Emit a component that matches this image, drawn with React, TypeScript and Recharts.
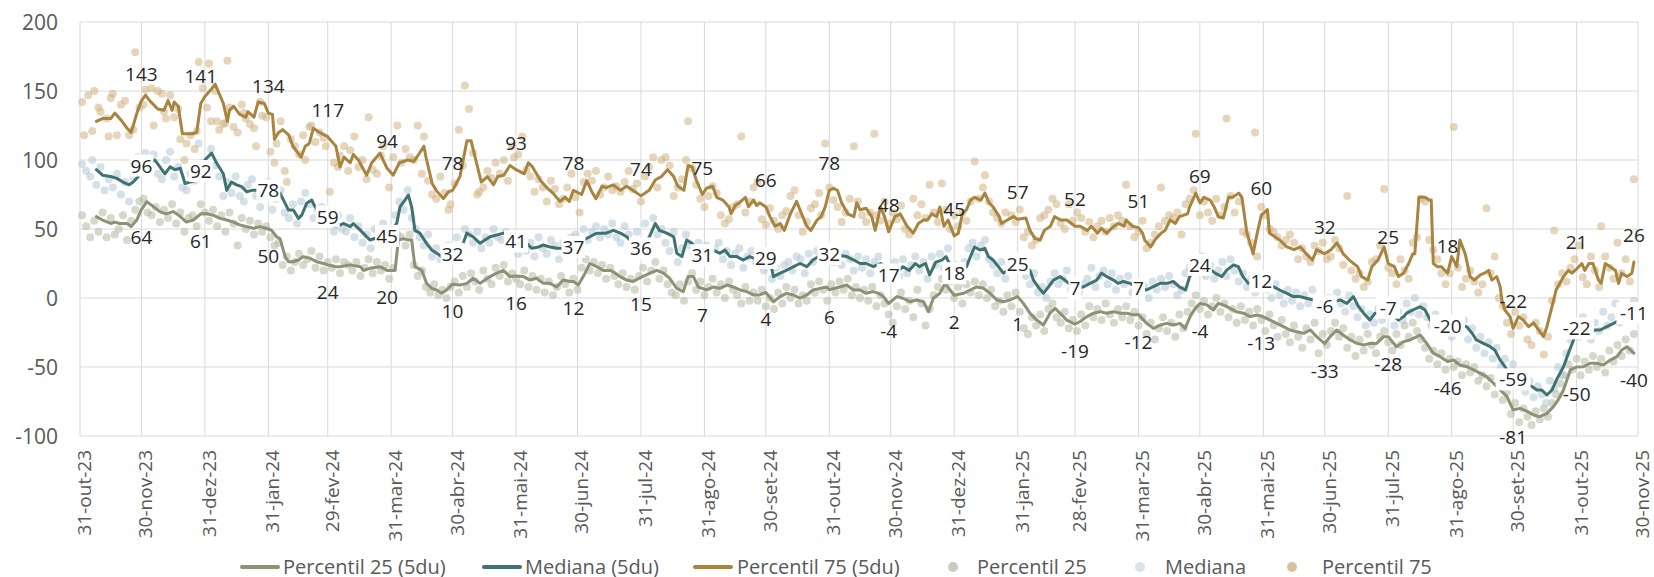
import { ComposedChart, Line, XAxis, YAxis, CartesianGrid } from "recharts";

// x = calendar days counted from 31-out-23
const tickDays = [0, 30, 61, 92, 121, 152, 182, 213, 243, 274, 305, 335, 366, 396, 427, 458, 486, 517, 547, 578, 608, 639, 670, 700, 731, 761];
const tickLabels = [
  "31-out-23", "30-nov-23", "31-dez-23", "31-jan-24", "29-fev-24", "31-mar-24", "30-abr-24", "31-mai-24", "30-jun-24",
  "31-jul-24", "31-ago-24", "30-set-24", "31-out-24", "30-nov-24", "31-dez-24", "31-jan-25", "28-fev-25", "31-mar-25",
  "30-abr-25", "31-mai-25", "30-jun-25", "31-jul-25", "31-ago-25", "30-set-25", "31-out-25", "30-nov-25",
];
const yTicks = [-100, -50, 0, 50, 100, 150, 200];

// last business day of each month, where the labels sit
const labelDays = [30, 59, 92, 121, 150, 182, 213, 241, 274, 304, 335, 366, 395, 427, 458, 486, 517, 547, 577, 608, 639, 668, 700, 731, 759];
const p75Labels = [143, 141, 134, 117, 94, 78, 93, 78, 74, 75, 66, 78, 48, 45, 57, 52, 51, 69, 60, 32, 25, 18, -22, 21, 26];
const medLabels = [96, 92, 78, 59, 45, 32, 41, 37, 36, 31, 29, 32, 17, 18, 25, 7, 7, 24, 12, -6, -7, -20, -59, -22, -11];
const p25Labels = [64, 61, 50, 24, 20, 10, 16, 12, 15, 7, 4, 6, -4, 2, 1, -19, -12, -4, -13, -33, -28, -46, -81, -50, -40];

// 5du lines [day, value]
const p75Line: [number, number][] = [
  [8,128],[11,130],[15,130],[17,134],[20,129],[23,123],[25,120],[28,135],[30,143],[32,147],[34,143],[38,137],[41,136],[43,143],[45,136],[46,142],[48,139],[50,119],[55,119],[57,120],[59,141],[61,146],[64,151],[66,155],[68,148],[70,141],[72,128],[73,136],[75,139],[78,133],[81,131],[82,135],[85,131],[87,142],[90,141],[92,134],[94,133],[95,115],[97,120],[99,122],[102,118],[104,110],[108,102],[110,110],[112,112],[114,123],[117,120],[121,117],[122,115],[125,110],[127,95],[129,102],[132,98],[133.5,104],[136,100],[140,89],[142.5,98],[146.5,105],[150,94],[153,89],[156,98],[160,100],[163,99],[164.5,102],[168,110],[169,102],[172,83],[174,78],[177.5,72],[180,77],[182,78],[185.6,88],[189,114],[191,114],[193,102],[196,84],[199,88],[202,82],[204,88],[207,89],[210,96],[213,93],[217,90],[219,98],[221,95],[225,85],[228,80],[231,76],[234.5,70],[237,73],[239,70],[241,78],[245,75],[247.5,85],[250,77],[252,72],[255,81],[257,80],[260.5,82],[264,78],[267,81],[270,78],[274,74],[278,78],[281,85.5],[284,88],[287,93],[290,88],[292,81],[295,78],[297,96],[299,95],[301,85.5],[304,75],[306,79.5],[309,81],[311,73],[314,71],[317,66],[318,61],[320,67],[322,69],[325,73],[326.5,66],[329,71],[330.5,67],[332,69],[335,66],[337,59],[339.5,52],[342,54],[344,49],[347,61],[350,70],[352.5,61],[355,52],[357,49],[360,56.5],[362,59],[364,66],[366,78],[368,79.5],[370,78],[372,69],[375,61],[378,59],[379.4,69],[381,64],[384,65],[386.7,59],[388.4,49],[391,66],[393,59],[395,48],[398,59],[400.6,61],[404,52],[407,47],[409.5,54],[412,56.5],[414,56.5],[416,61],[418.5,59],[420,66],[422,52],[424,56.5],[427,45],[429,47],[431,61],[433,64],[435,71],[437,73],[440,71],[442,76],[444,69],[446,66],[449,59],[450,54],[453,56.5],[456,59],[458,57],[462,58],[464,49],[466.5,43],[469,42],[471,49],[474,52],[476,59],[479,56.5],[482,56.5],[486,52],[488.5,52],[492,49],[494,52],[497,47],[499,50.5],[501.5,47],[505,52],[507,54],[510,52],[511,56.5],[514,52],[517,51],[519,47],[520,42],[523,37],[525,42],[528,47],[530,49],[532.5,56.5],[535,54],[537,59],[541,61],[542,66],[545,76],[547,69],[549,73],[552,71],[554,66],[556,59],[558.5,58],[561,73],[563,73],[566,76],[567.5,73],[570,47],[573,32],[575,47],[577,60],[580,64],[581,47],[584,44],[586,42],[589.5,37],[593,35],[596,37],[599,32],[602,27.5],[604,35],[608,32],[611,35],[614,40],[617,32],[620,27.5],[624,22.7],[626,15.5],[629,13],[631,22.7],[634,27.5],[637,37],[639,25],[642,22.7],[644,15.5],[646.5,18],[649,25],[651,32],[652,32],[654,73],[657,73],[659,71],[660,71],[661,25],[663,22.7],[665,22.7],[668,18],[670,30],[672.5,22.7],[674,42],[676.6,32],[679,15.5],[681,13],[684,16.7],[686,18],[688,20],[689.6,13],[692,15.5],[693.7,8],[694.5,-1.4],[696,-8.7],[698.5,-13.5],[700,-22],[702.6,-13.5],[705,-16],[707.5,-20.8],[710,-18],[712.4,-23],[714.8,-28],[716.5,-20.8],[719,-6.3],[721,5.8],[724.6,15.5],[727,20],[728.7,18],[731,21],[733.6,25],[735,20],[737,25],[739,25],[741.7,13],[743,10.6],[745,25],[747.4,22.7],[750,20],[751.5,10.6],[753,18],[755.6,15.5],[758,18],[759,26],
];

const medLine: [number, number][] = [
  [8,93],[11,89],[15,88],[18,86.7],[21,84],[24,82],[26,84],[28.5,88],[30,96],[33,98],[36.6,100],[39,95],[41.5,90],[44,95],[46.4,93],[49,94],[51.3,83],[53.7,84],[57,85.5],[59,92],[61,100],[64.3,105],[66.8,97.6],[70,90],[71.7,78],[74,84],[76.5,82],[79,80.7],[81.4,77],[84,78],[86.3,78],[89,77],[92,78],[95,77],[97.7,76],[100.2,68.6],[101.8,63.8],[104.2,63.8],[106.7,57.7],[108.3,60],[110.7,68.6],[113.2,71],[114.8,66],[118,62],[121,59],[124,52],[125.4,51.7],[128.6,54],[132,51.7],[133.5,54],[137,49],[140,44.4],[141.6,42],[146,44],[150,45],[154.7,54],[156.3,66],[158.7,71],[160.4,74.6],[162,66],[163.6,49],[166,47],[169.3,39.6],[171.8,34.8],[174.2,32.4],[176.7,30],[180,31],[182,32],[185,36],[187.2,39.6],[188.9,47],[192,44.4],[195.4,39.6],[197.8,42],[200.3,44.4],[203.5,45.6],[206.8,47],[209,47],[213,41],[216,40],[218.2,39.6],[220.6,36],[224,37],[226.3,38.4],[229.6,37],[232.8,36],[236,36],[241,37],[246,42],[249,44.4],[252.4,47],[257,47],[260.5,49],[264,47],[267,44.4],[270,40],[274,36],[278,44],[281,54],[283,49],[286.6,47],[290,44.4],[291.5,32.4],[294,30],[296.3,42],[299,39.6],[302,34],[304,31],[309,34.8],[312.6,32.4],[315,34.8],[317.5,30],[320.8,30],[324,27.5],[327,30],[331,28],[335,29],[337,27.5],[338.7,15.5],[342,18],[345,20],[348.5,22.7],[351.7,25],[355,22.7],[358,27.5],[360.7,30],[363,31],[366,32],[370,31],[374.5,30],[378,27.5],[381,25],[384,25],[387.5,22.7],[391,25],[393,22.7],[395,17],[400,20],[402,22.7],[405,20],[408,25],[410,22.7],[413,25],[415,16.7],[418,26],[421,27.5],[423,30],[427,18],[430,20],[433,22.7],[435.6,32.4],[437,37],[439.6,34.8],[442,36],[443.7,30],[446,27.5],[448.6,22.7],[451,18],[453.5,20],[458,25],[462,22],[464,20],[465.7,13],[468,8],[470.6,3.4],[473,8],[475.5,13],[478.7,15.5],[481,13],[486,7],[490,8],[493.4,10.6],[496.6,13],[499,18],[501.5,15.5],[504.8,13],[507,10.6],[509.7,12],[513,10.6],[517,7],[521,5.8],[524,8],[527.6,10.6],[531,10.6],[534,12],[537,8],[540,5.8],[542,15.5],[547,24],[551,22],[554.4,18],[557.7,15.5],[560,20],[563.4,24],[565.8,22.7],[568,15.5],[570.7,10.6],[574,11],[577,12],[583,8],[586,5.8],[589.5,3.4],[592.7,1],[596,1],[599,-0.2],[602.5,-1.4],[608,-6],[612,-3],[615.5,-1.4],[618.8,-3.9],[622,1],[624.5,-6.3],[627,-11],[630,-16],[632.6,-11],[636,-12],[639,-7],[641,-12],[644,-16],[646.5,-13.5],[648,-11],[651,-8.7],[654.6,-6.3],[657,-8.7],[659.5,-16],[663,-18],[668,-20],[672,-19],[677.4,-20.8],[680,-25.6],[682,-30.4],[685.5,-32.9],[688.8,-35.3],[691,-37.7],[693.7,-45],[696,-49.8],[700,-59],[703,-60],[706,-62],[709,-64],[711.6,-66.7],[714,-66.7],[716.5,-70.3],[719,-66.7],[721.3,-59],[724.6,-49.8],[727,-40],[729.5,-30.4],[731,-22],[734,-24],[737.6,-25.6],[740,-23.2],[742.5,-23.2],[745.8,-20.8],[749,-18.4],[752.3,-16],[755.6,-13.5],[759,-11],
];

const p25Line: [number, number][] = [
  [8,59],[11,56.5],[15,54],[17,55],[19.5,54],[23,54],[25,51.7],[27.7,56.5],[30,64],[32.6,69.8],[36,66],[39,62.6],[42,61],[45.6,62.6],[49,59],[52,55],[55.4,56.5],[59,61],[62,61],[65,60],[68.4,57.7],[71.7,56.5],[75,55],[78,53],[81.4,51.7],[84.7,50.5],[88,51.7],[92,50],[93.6,49],[96,44.4],[97.7,43],[100.2,30],[101.8,26.3],[104.2,26.3],[106.7,27.5],[109,30],[112.4,28.7],[115.6,26.3],[118.9,25],[121,24],[125,22.7],[127,22.7],[132,24],[137,22.7],[138.4,20],[141.6,21.5],[146.5,22.7],[150,20],[153.9,20],[155.5,42],[157.9,43],[160.4,42],[162,42],[163.6,22.7],[167,20],[169.3,10.6],[171.8,7],[174.2,5.8],[176.7,3.4],[179,5.8],[182,10],[185.6,9.4],[189,10.6],[192,14.3],[195.4,10.6],[197.8,13],[200.3,15.5],[203.5,18],[206.8,20],[210,15.5],[213,16],[216.6,15.5],[219.8,13],[223,14.3],[226.3,10.6],[229.6,10.6],[232.8,8],[236,13],[239.4,12],[241,12],[243.4,9.4],[246.7,18],[249,25],[252.4,22.7],[255.6,20],[259,20],[260.5,19],[263.8,15.5],[267,13],[270.3,12],[274,15],[278.4,18],[281.7,20],[285,18],[288,14.3],[291.5,7],[294.7,4.6],[297,15.5],[299.6,15.5],[302,8],[304,7],[306,5.8],[309.4,8],[312.6,7],[316,9.4],[319,8],[322.4,5.8],[325.7,4.6],[329,2.2],[332,2.2],[335,4],[338.7,-2.7],[342,1],[345,3.4],[348.5,2.2],[351.7,-0.2],[355,2.2],[358,5.8],[361.5,7],[364.7,8],[366,6],[371,8],[374.5,9.4],[377.8,5.8],[381,5.8],[384,3.4],[387.5,4.6],[390,3.4],[392.4,1],[395,-4],[399,1],[402,-0.2],[405.4,-2.7],[408.7,-1.4],[412,-2.7],[414.4,-9.9],[416.8,-0.2],[420,3.4],[422.5,10.6],[425,5.8],[427,2],[431.5,3.4],[434.8,5.8],[438,8],[441.3,7],[444.5,3.4],[447.8,-1.4],[451,-2.7],[454.3,-1.4],[458,1],[460.8,-3.9],[464,-11],[467.3,-16],[470.6,-19.6],[473.8,-11],[476.3,-7.5],[478.7,-11],[482,-16],[486,-19],[488.5,-17],[491.8,-13.5],[495,-11],[498.3,-9.9],[501.5,-11],[504.8,-9.9],[508,-11],[511.3,-11],[514.6,-12.3],[517,-12],[521,-18.4],[524.3,-22],[527.6,-19.6],[530.8,-18.4],[534,-19.6],[537.3,-18.4],[539.8,-22],[542.2,-13.5],[544.7,-7.5],[547,-4],[550.4,-5],[553.6,-8.7],[556,-3.9],[558.5,-5],[561.8,-7.5],[565,-10],[568.3,-11],[571.5,-13.5],[574.8,-12.3],[577,-13],[581.3,-16],[584.6,-18.4],[587.8,-20.8],[591,-23.2],[594.3,-24.4],[597.6,-25.6],[601,-23.2],[604,-28],[608,-33],[610.6,-28],[613.9,-23.2],[617,-26.8],[620.4,-30.4],[623.7,-32.9],[627,-34],[630,-32.9],[633.4,-32.9],[636.7,-28],[639,-28],[643,-35.3],[646.5,-31.6],[649.7,-30.4],[653,-28],[654.6,-26.8],[657.8,-32.9],[661,-40],[664.3,-42.5],[668,-46],[671,-45],[674,-48.6],[677.4,-49.8],[680.6,-52],[684,-54.6],[687,-57],[690.4,-61.8],[693.7,-66.7],[697,-71.5],[700,-81],[703.4,-80],[706.7,-82],[710,-84.8],[713,-86],[716.5,-83.6],[719.7,-78.7],[722,-73.9],[724.6,-66.7],[728,-52],[731,-50],[734.4,-49.8],[737.6,-47.3],[741,-47.3],[744,-48.6],[747.4,-45],[750.7,-42.5],[753,-37.7],[755.6,-35.3],[759,-40],
];

// daily readings (dots)
const p75Dots: [number, number][] = [
  [1,142],[2,118],[4,147],[6,121],[7,150],[9,138],[10,135],[13,130],[14,117],[15,145],[16,148],[18,118],[20,140],[22,143],[24,118],[26,122],[27,178],[29,138],[31,140],[32,151],[35,152],[36,125],[38,150],[40,148],[41,135],[42,130],[44,147],[46,131],[48,137],[49,115],[51,100],[52,112],[54,118],[56,108],[57,121],[58,171],[60,152],[62,138],[63,170],[64,128],[66,150],[67,128],[68,122],[70,126],[71,127],[72,172],[73,138],[75,124],[77,120],[79,140],[80,134],[81,130],[83,126],[85,123],[86,110],[88,142],[89,132],[91,131],[93,106],[95,98],[96,112],[98,128],[100,92],[101,84],[103,115],[105,110],[107,104],[109,118],[110,100],[112,124],[113,125],[115,113],[117,120],[119,116],[120,110],[122,77],[124,98],[126,95],[127,103],[129,110],[131,92],[132,107],[134,117],[136,95],[138,100],[140,86],[141,131],[143,93],[145,90],[147,103],[148,110],[151,80],[153,102],[155,125],[157,98],[159,108],[161,102],[163,100],[165,125],[167,90],[168,117],[170,85],[172,75],[174,72],[176,88],[178,76],[180,64],[181,68],[183,83],[185,122],[187,96],[188,154],[190,137],[192,105],[194,75],[195,77],[197,80],[199,92],[201,87],[203,98],[205,90],[207,100],[209,85],[211,110],[212,102],[214,104],[216,117],[218,93],[220,88],[222,77],[224,86],[226,80],[228,70],[230,85],[232,79],[234,68],[236,72],[238,80],[240,90],[242,73],[244,62],[246,84],[248,90],[250,85],[252,92],[254,75],[256,80],[258,88],[260,78],[262,81],[264,77],[266,84],[268,92],[270,79],[272,83],[274,70],[276,88],[278,95],[280,102],[282,80],[284,100],[286,102],[288,96],[290,74],[292,80],[294,86],[296,100],[297,128],[299,94],[301,82],[303,72],[305,66],[307,74],[309,81],[311,76],[313,60],[315,54],[317,57],[319,66],[321,68],[323,117],[325,62],[327,70],[329,80],[331,84],[333,57],[335,53],[337,65],[339,56],[341,50],[343,60],[345,63],[347,74],[349,78],[351,60],[353,48],[355,55],[357,65],[359,68],[361,76],[362,60],[364,112],[366,80],[368,71],[370,66],[372,55],[374,62],[376,72],[378,110],[380,70],[382,60],[384,55],[386,62],[388,119],[389,60],[391,56],[393,70],[395,54],[397,62],[399,57],[401,67],[403,50],[405,46],[407,72],[409,60],[411,68],[413,58],[415,82],[417,62],[419,55],[421,83],[423,64],[425,50],[427,60],[429,52],[431,62],[433,56],[435,70],[437,99],[439,72],[441,80],[442,89],[444,70],[446,62],[448,58],[450,54],[452,62],[455,60],[457,55],[459,64],[461,44],[463,48],[465,38],[467,42],[469,58],[471,60],[473,64],[475,72],[477,68],[479,54],[481,50],[483,68],[485,56],[487,62],[489,58],[491,48],[493,55],[495,44],[497,52],[499,56],[501,48],[503,58],[505,52],[507,60],[509,56],[511,82],[513,52],[515,44],[517,48],[519,56],[521,36],[523,40],[525,46],[527,52],[528,80],[530,56],[532,60],[534,58],[536,62],[538,46],[540,68],[542,72],[544,78],[545,119],[547,60],[549,70],[551,62],[553,56],[555,72],[557,60],[559,66],[560,130],[562,74],[564,62],[566,70],[568,48],[570,46],[572,40],[574,120],[575,30],[577,66],[579,60],[581,50],[583,48],[585,44],[587,38],[589,42],[591,46],[593,40],[595,28],[597,36],[599,30],[601,26],[603,38],[605,34],[607,40],[609,28],[611,30],[613,42],[615,36],[617,24],[619,74],[621,20],[623,14],[625,18],[627,8],[629,12],[631,26],[633,28],[635,38],[637,79],[639,22],[641,18],[643,10],[645,28],[647,20],[649,14],[651,40],[653,44],[655,72],[657,70],[659,42],[661,35],[663,28],[665,18],[667,10],[669,18],[671,124],[673,22],[675,8],[677,14],[679,20],[681,12],[683,4],[685,10],[687,65],[689,18],[691,30],[693,0],[695,-6],[697,-18],[699,-26],[701,-10],[703,-20],[705,-14],[707,-30],[709,-34],[711,-18],[713,-24],[715,-41],[717,-28],[719,-2],[720,49],[722,10],[724,18],[726,12],[728,22],[730,28],[732,38],[734,15],[736,10],[738,30],[740,20],[742,8],[743,52],[745,30],[747,22],[749,14],[751,40],[753,18],[755,28],[757,12],[759,86],
];

const medDots: [number, number][] = [
  [1,97],[3,92],[5,88],[6,100],[8,82],[10,95],[12,78],[14,86],[16,80],[18,90],[20,75],[22,84],[24,70],[26,88],[28,102],[30,92],[32,105],[34,98],[36,104],[38,90],[40,86],[42,100],[44,106],[46,88],[48,95],[50,80],[52,78],[54,90],[56,85],[58,112],[60,98],[62,92],[64,108],[66,96],[68,88],[70,74],[72,84],[74,76],[76,88],[78,74],[80,70],[82,82],[84,86],[86,74],[88,66],[90,80],[92,84],[94,64],[96,72],[98,78],[100,62],[102,58],[104,68],[106,54],[108,70],[110,76],[112,68],[114,58],[116,64],[118,66],[120,54],[122,56],[124,48],[126,60],[128,50],[130,48],[132,58],[134,44],[136,52],[138,40],[140,46],[142,36],[144,50],[146,42],[148,54],[150,48],[152,40],[154,60],[156,70],[158,64],[160,78],[162,58],[164,50],[166,44],[168,38],[170,46],[172,30],[174,36],[176,28],[178,34],[180,38],[182,28],[184,44],[186,36],[188,50],[190,46],[192,40],[194,48],[196,36],[198,44],[200,40],[202,50],[204,44],[206,42],[208,48],[210,38],[212,46],[214,32],[216,42],[218,34],[220,40],[222,30],[224,44],[226,36],[228,32],[230,42],[232,38],[234,28],[236,40],[238,34],[240,44],[242,46],[244,38],[246,50],[248,42],[250,48],[252,52],[254,44],[256,50],[258,46],[260,54],[262,44],[264,40],[266,52],[268,46],[270,38],[272,48],[274,32],[276,54],[278,42],[280,58],[282,46],[284,50],[286,40],[288,34],[290,48],[292,26],[294,36],[296,46],[298,38],[300,32],[302,40],[304,30],[306,38],[308,26],[310,36],[312,40],[314,28],[316,34],[318,24],[320,32],[322,36],[324,22],[326,30],[328,34],[330,26],[332,32],[334,20],[336,28],[338,14],[340,22],[342,16],[344,24],[346,26],[348,20],[350,30],[352,28],[354,18],[356,32],[358,26],[360,34],[362,28],[364,36],[366,30],[368,26],[370,34],[372,24],[374,32],[376,28],[378,20],[380,30],[382,22],[384,28],[386,18],[388,26],[390,30],[392,20],[394,14],[396,22],[398,26],[400,16],[402,28],[404,18],[406,24],[408,30],[410,20],[412,26],[414,14],[416,30],[418,24],[420,32],[422,22],[424,36],[426,16],[428,24],[430,14],[432,26],[434,36],[436,40],[438,30],[440,38],[442,42],[444,28],[446,24],[448,18],[450,26],[452,14],[454,22],[456,28],[458,20],[460,24],[462,16],[464,10],[466,18],[468,4],[470,8],[472,0],[474,12],[476,18],[478,10],[480,14],[482,20],[484,6],[486,12],[488,4],[490,10],[492,14],[494,22],[496,8],[498,16],[500,20],[502,10],[504,18],[506,6],[508,14],[510,10],[512,16],[514,4],[516,12],[518,2],[520,8],[522,0],[524,12],[526,6],[528,14],[530,8],[532,16],[534,10],[536,2],[538,6],[540,18],[542,22],[544,28],[546,20],[548,30],[550,16],[552,24],[554,14],[556,20],[558,26],[560,16],[562,28],[564,20],[566,12],[568,18],[570,8],[572,14],[574,4],[576,10],[578,16],[580,6],[582,0],[584,10],[586,2],[588,-4],[590,6],[592,-2],[594,4],[596,-6],[598,2],[600,-4],[602,6],[604,-8],[606,-2],[608,-10],[610,0],[612,-6],[614,4],[616,-4],[618,-10],[620,2],[622,-6],[624,-14],[626,-8],[628,-20],[630,-12],[632,-18],[634,-8],[636,-16],[638,-4],[640,-12],[642,-20],[644,-10],[646,-16],[648,-4],[650,-10],[652,0],[654,-12],[656,-6],[658,-14],[660,-20],[662,-12],[664,-24],[666,-16],[668,-22],[670,-28],[672,-18],[674,-24],[676,-16],[678,-30],[680,-22],[682,-36],[684,-28],[686,-40],[688,-32],[690,-44],[692,-36],[694,-50],[696,-44],[698,-56],[700,-48],[702,-62],[704,-54],[706,-68],[708,-60],[710,-72],[712,-64],[714,-70],[716,-76],[718,-60],[720,-66],[722,-50],[724,-56],[726,-40],[728,-30],[730,-20],[732,-28],[734,-14],[736,-22],[738,-30],[740,-18],[742,-24],[744,-10],[746,-20],[748,-14],[750,-4],[752,-18],[754,-8],[756,-16],[758,-6],[759,-2],
];

const p25Dots: [number, number][] = [
  [1,60],[3,52],[5,44],[7,56],[9,48],[11,62],[13,44],[15,58],[17,46],[19,50],[21,60],[23,42],[25,56],[27,64],[29,70],[31,72],[33,62],[35,60],[37,66],[39,55],[41,64],[43,58],[45,68],[47,54],[49,62],[51,48],[53,58],[55,60],[57,52],[59,68],[61,62],[63,56],[65,64],[67,52],[69,60],[71,48],[73,62],[75,54],[77,38],[79,58],[81,50],[83,56],[85,46],[87,54],[89,48],[91,52],[93,44],[95,38],[97,40],[99,24],[101,30],[103,20],[105,26],[107,32],[109,24],[111,28],[113,34],[115,22],[117,30],[119,20],[121,26],[123,22],[125,28],[127,18],[129,26],[131,24],[133,20],[135,26],[137,16],[139,22],[141,28],[143,18],[145,26],[147,20],[149,24],[151,14],[153,22],[155,46],[157,44],[159,38],[161,46],[163,24],[165,16],[167,20],[169,8],[171,4],[173,10],[175,2],[177,6],[179,0],[181,8],[183,12],[185,4],[187,16],[189,8],[191,18],[193,12],[195,6],[197,20],[199,14],[201,10],[203,22],[205,16],[207,24],[209,12],[211,18],[213,14],[215,10],[217,20],[219,8],[221,16],[223,6],[225,14],[227,4],[229,12],[231,2],[233,8],[235,16],[237,10],[239,4],[241,14],[243,6],[245,22],[247,28],[249,20],[251,26],[253,18],[255,24],[257,14],[259,22],[261,16],[263,10],[265,18],[267,8],[269,14],[271,6],[273,16],[275,22],[277,12],[279,20],[281,26],[283,14],[285,20],[287,10],[289,4],[291,2],[293,10],[295,-2],[297,12],[299,18],[301,6],[303,12],[305,2],[307,8],[309,14],[311,4],[313,10],[315,0],[317,12],[319,6],[321,2],[323,-4],[325,8],[327,-2],[329,4],[331,-2],[333,6],[335,-6],[337,0],[339,-8],[341,4],[343,-4],[345,8],[347,0],[349,6],[351,-4],[353,2],[355,-2],[357,10],[359,4],[361,12],[363,6],[365,-2],[367,10],[369,4],[371,12],[373,6],[375,14],[377,2],[379,8],[381,0],[383,6],[385,-2],[387,8],[389,-6],[391,2],[393,-4],[395,-12],[397,-18],[399,-6],[401,4],[403,-8],[405,-2],[407,-14],[409,6],[411,-4],[413,-20],[415,-8],[417,2],[419,8],[421,14],[423,6],[425,12],[427,0],[429,8],[431,-4],[433,10],[435,4],[437,12],[439,2],[441,10],[443,0],[445,6],[447,-6],[449,-2],[451,-10],[453,2],[455,-6],[457,4],[459,-10],[461,-22],[463,-26],[465,-14],[467,-20],[469,-12],[471,-24],[473,-8],[475,-4],[477,-14],[479,-18],[481,-10],[483,-22],[485,-16],[487,-24],[489,-12],[491,-20],[493,-6],[495,-14],[497,-8],[499,-16],[501,-4],[503,-12],[505,-18],[507,-8],[509,-14],[511,-6],[513,-16],[515,-10],[517,-20],[519,-14],[521,-26],[523,-18],[525,-30],[527,-22],[529,-14],[531,-24],[533,-18],[535,-28],[537,-12],[539,-22],[541,-10],[543,-4],[545,2],[547,-8],[549,-2],[551,-12],[553,-6],[555,0],[557,-10],[559,-4],[561,-14],[563,-8],[565,-18],[567,-6],[569,-16],[571,-10],[573,-20],[575,-8],[577,-16],[579,-24],[581,-12],[583,-20],[585,-28],[587,-16],[589,-26],[591,-32],[593,-20],[595,-28],[597,-36],[599,-22],[601,-30],[603,-18],[605,-40],[607,-26],[609,-34],[611,-24],[613,-18],[615,-28],[617,-22],[619,-36],[621,-28],[623,-42],[625,-30],[627,-38],[629,-26],[631,-34],[633,-40],[635,-28],[637,-24],[639,-32],[641,-38],[643,-26],[645,-34],[647,-20],[649,-28],[651,-18],[653,-24],[655,-30],[657,-36],[659,-44],[661,-38],[663,-48],[665,-40],[667,-52],[669,-44],[671,-50],[673,-46],[675,-56],[677,-48],[679,-54],[681,-50],[683,-60],[685,-56],[687,-64],[689,-58],[691,-70],[693,-62],[695,-74],[697,-68],[699,-84],[701,-76],[703,-90],[705,-80],[707,-86],[709,-92],[711,-82],[713,-88],[715,-80],[717,-86],[719,-76],[721,-70],[723,-62],[725,-56],[727,-48],[729,-52],[731,-44],[733,-56],[735,-46],[737,-52],[739,-42],[741,-50],[743,-44],[745,-54],[747,-38],[749,-46],[751,-34],[753,-42],[755,-30],[757,-38],[759,-26],
];

const FONT = "'Open Sans', 'Noto Sans', sans-serif";
const C_P25 = "#8b9276";
const C_MED = "#3e7371";
const C_P75 = "#a8843f";
const DOT_P25 = "#b3b8a0";
const DOT_MED = "#b4c6d6";
const DOT_P75 = "#cdb284";

const rows = (pairs: [number, number][]) => pairs.map(([d, v]) => ({ d, v }));
const labelRows = (vals: number[]) => labelDays.map((d, i) => ({ d, v: vals[i] }));

// the 5du lines are painted by their last dot so they always sit above every dot
const polyShape = (color: string, n: number) => {
  const pts: string[] = [];
  return (p: any) => {
    if (p.index === 0) pts.length = 0;
    pts[p.index] = `${p.cx},${p.cy}`;
    if (p.index !== n - 1) return <g key={p.index} />;
    return (
      <polyline
        key={p.index}
        points={pts.join(" ")}
        fill="none"
        stroke={color}
        strokeWidth={3}
        strokeLinejoin="round"
        strokeLinecap="round"
      />
    );
  };
};

const dotShape = (fill: string) => (p: any) =>
  <circle key={p.index} cx={p.cx} cy={p.cy} r={4} fill={fill} fillOpacity={0.55} />;

// pos: -1 above, 0 centred on a white box, 1 below
const labelShape = (pos: number) => (p: any) => {
  const t = String(p.payload.v);
  const y = p.cy + pos * 27;
  const w = t.length * 11 + 2;
  return (
    <g key={p.index}>
      {pos === 0 && <rect x={p.cx - w / 2} y={y - 11} width={w} height={22} fill="#fff" />}
      <text x={p.cx} y={y} textAnchor="middle" dominantBaseline="central" fontSize={19} fill="#262626" fontFamily={FONT}>
        {t}
      </text>
    </g>
  );
};

const XTick = (props: any) => {
  const { x, payload } = props;
  const i = tickDays.indexOf(payload.value);
  return (
    <g transform={`translate(${x + 11}, 450) rotate(-90)`}>
      <text x={0} y={0} textAnchor="end" fontSize={19} fill="#595959" fontFamily={FONT}>
        {tickLabels[i]}
      </text>
    </g>
  );
};

const YTick = (props: any) => (
  <text x={58} y={props.y} textAnchor="end" dominantBaseline="central" fontSize={21} fill="#595959" fontFamily={FONT}>
    {props.payload.value}
  </text>
);

const legendItems = [
  { kind: "line", color: C_P25, left: 240, textLeft: 283, text: "Percentil 25 (5du)" },
  { kind: "line", color: C_MED, left: 482, textLeft: 525, text: "Mediana (5du)" },
  { kind: "line", color: C_P75, left: 693, textLeft: 737, text: "Percentil 75 (5du)" },
  { kind: "dot", color: "#c9ccbd", left: 948, textLeft: 977, text: "Percentil 25" },
  { kind: "dot", color: "#dbe3ea", left: 1135, textLeft: 1165, text: "Mediana" },
  { kind: "dot", color: "#d4c2a0", left: 1287, textLeft: 1322, text: "Percentil 75" },
];

const series = (name: string, data: any[], dot: any) => (
  <Line key={name} data={data} dataKey="v" stroke="none" dot={dot} activeDot={false} isAnimationActive={false} />
);

export default function App() {
  return (
    <div style={{ position: "absolute", left: 0, top: 0, width: 1654, height: 577, background: "#fff", fontFamily: FONT }}>
      <ComposedChart width={1654} height={545} margin={{ top: 22, right: 16, bottom: 0, left: 0 }}>
        <CartesianGrid stroke="#d9d9d9" strokeWidth={1} />
        <XAxis
          type="number"
          dataKey="d"
          domain={[0, 761]}
          ticks={tickDays}
          interval={0}
          height={109}
          axisLine={false}
          tickLine={false}
          tick={<XTick />}
        />
        <YAxis
          type="number"
          domain={[-100, 200]}
          ticks={yTicks}
          interval={0}
          width={80}
          axisLine={false}
          tickLine={false}
          tick={<YTick />}
        />
        {series("p25Dots", rows(p25Dots), dotShape(DOT_P25))}
        {series("medDots", rows(medDots), dotShape(DOT_MED))}
        {series("p75Dots", rows(p75Dots), dotShape(DOT_P75))}
        {series("p25Line", rows(p25Line), polyShape(C_P25, p25Line.length))}
        {series("medLine", rows(medLine), polyShape(C_MED, medLine.length))}
        {series("p75Line", rows(p75Line), polyShape(C_P75, p75Line.length))}
        {series("p25Labels", labelRows(p25Labels), labelShape(1))}
        {series("medLabels", labelRows(medLabels), labelShape(0))}
        {series("p75Labels", labelRows(p75Labels), labelShape(-1))}
      </ComposedChart>
      {legendItems.map((it) => (
        <div key={it.text}>
          {it.kind === "line" ? (
            <div style={{ position: "absolute", left: it.left, top: 565, width: 40, height: 4, borderRadius: 2, background: it.color }} />
          ) : (
            <div style={{ position: "absolute", left: it.left, top: 562, width: 10, height: 10, borderRadius: 5, background: it.color }} />
          )}
          <div style={{ position: "absolute", left: it.textLeft, top: 554, fontSize: 20, lineHeight: "26px", color: "#595959", whiteSpace: "nowrap" }}>
            {it.text}
          </div>
        </div>
      ))}
    </div>
  );
}
